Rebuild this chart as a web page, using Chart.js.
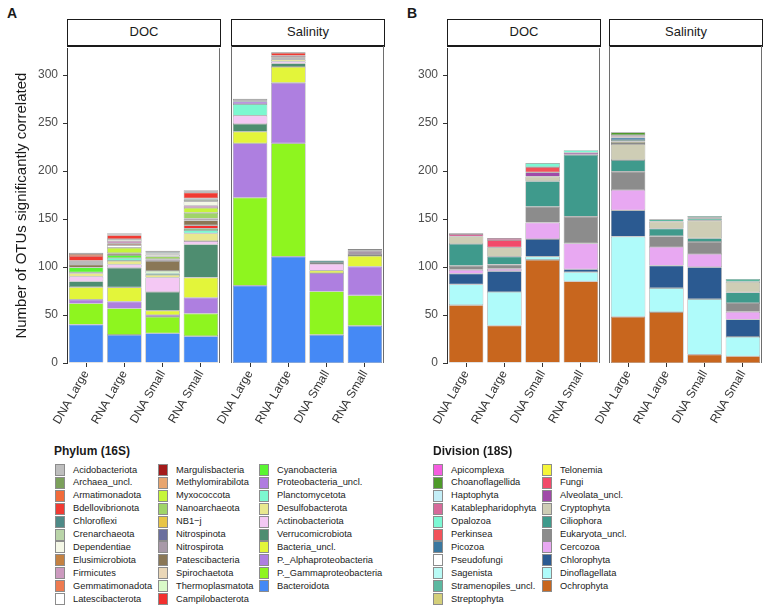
<!DOCTYPE html>
<html>
<head>
<meta charset="utf-8">
<script src="https://cdn.jsdelivr.net/npm/chart.js@4.4.1/dist/chart.umd.min.js"></script>
<style>
  html, body { margin: 0; padding: 0; background: #fff; }
  body { font-family: "Liberation Sans", Arial, sans-serif; color: #1a1a1a; }
  #page { position: relative; width: 767px; height: 608px; overflow: hidden; }
  .tag { position: absolute; font-weight: bold; font-size: 14px; }
  .strip { position: absolute; box-sizing: border-box; border: 1px solid #1a1a1a; border-bottom-width: 2px;
           background: #fff; font-size: 13px; text-align: center; line-height: 24px; }
  .cv { position: absolute; }
  .lg-title { position: absolute; font-weight: bold; font-size: 12px; }
  .lg-key { position: absolute; width: 10px; height: 12px; box-sizing: border-box; border: 1px solid #8c8c8c; }
  .lg-text { position: absolute; font-size: 9.3px; line-height: 12px; white-space: nowrap; }
</style>
</head>
<body>
<div id="page"></div>
<script>
// samples and facets
const samples = ['DNA Large', 'RNA Large', 'DNA Small', 'RNA Small'];
const facets = ['DOC', 'Salinity'];
const yTicks = [0, 50, 100, 150, 200, 250, 300];

// 16S phyla, legend order (first one sits on top of the stack)
const phyla = ['Acidobacteriota', 'Archaea_uncl.', 'Armatimonadota', 'Bdellovibrionota', 'Chloroflexi',
  'Crenarchaeota', 'Dependentiae', 'Elusimicrobiota', 'Firmicutes', 'Gemmatimonadota', 'Latescibacterota',
  'Margulisbacteria', 'Methylomirabilota', 'Myxococcota', 'Nanoarchaeota', 'NB1\u2212j', 'Nitrospinota',
  'Nitrospirota', 'Patescibacteria', 'Spirochaetota', 'Thermoplasmatota', 'Campilobacterota',
  'Cyanobacteria', 'Proteobacteria_uncl.', 'Planctomycetota', 'Desulfobacterota', 'Actinobacteriota',
  'Verrucomicrobiota', 'Bacteria_uncl.', 'P._Alphaproteobacteria', 'P._Gammaproteobacteria', 'Bacteroidota'];
const phylaColors = ['#bebebe', '#7ba05b', '#f26b3a', '#f03a32', '#4e8a87',
  '#b9d4a8', '#f4f7e6', '#c48141', '#cc9abf', '#ee7a50', '#ffffff',
  '#a31a1a', '#e8a56e', '#c6f53a', '#a0d468', '#e8c546', '#6b6f9e',
  '#a899a8', '#8a7756', '#ead7b7', '#dafac8', '#f2302e',
  '#5af532', '#b07ce0', '#7cf8d0', '#e8e88f', '#f4c8f4',
  '#4e8d70', '#e3f53a', '#ae7fe0', '#8ef51f', '#4589f5'];
// values per phylum: DNA Large, RNA Large, DNA Small, RNA Small
const phylaDOC = [
  [1.5, 1.7, 1.5, 2.5], [0, 0, 0, 0], [2, 0.5, 0, 0], [5, 4, 0, 6], [0, 0, 1.5, 1.5],
  [1, 0, 1, 1.5], [1, 2, 2, 4.5], [0, 0, 0, 0], [1, 2.8, 0, 2.5], [0, 1.4, 0, 0], [0, 3, 0, 0],
  [0, 0, 0, 0], [0, 0, 0, 0], [0, 5.5, 0, 5], [1, 0, 2.8, 6], [0, 0, 0, 0], [0, 0, 0, 0],
  [0, 0, 2, 2], [3, 2, 10.3, 5], [0, 0, 0, 0], [0, 0, 2.4, 0], [0, 0, 0, 3.5],
  [5, 3, 0, 1.5], [0, 0, 0, 0], [1, 3, 1.7, 3.5], [3.5, 3.8, 2.8, 8], [5, 3.4, 15, 3.5],
  [6, 20.4, 19.5, 34.5], [13, 14.8, 4.5, 21], [4, 7.2, 2, 16.5], [22, 27.5, 17, 23.5], [40, 29.3, 31, 28]
];
const phylaSalinity = [
  [1.5, 1, 0, 1], [0, 0, 0, 0], [0, 0, 0, 0], [0, 3, 0, 0.8], [1.5, 0, 2.5, 0],
  [0, 0, 0, 0], [0, 0, 0, 0], [0, 0, 0, 0], [0, 1.5, 0, 0], [0, 0, 0, 0], [0, 0, 0, 0],
  [0, 0, 0, 0], [0, 0, 0, 0], [0, 0, 0, 0], [0, 0, 0, 0], [0, 0, 0, 0], [0, 0, 0, 0],
  [0, 0, 0, 4.4], [0, 1.5, 0, 0], [0, 0, 0, 0], [0, 0, 0, 0], [0, 0, 0, 0],
  [0, 0, 0, 0], [2.4, 0, 0, 0], [12, 1, 0, 0], [0, 2, 1, 1], [8.6, 2, 7, 0],
  [8, 3.5, 0, 0], [12, 16.5, 2.5, 11], [56.3, 62.6, 19, 29.9], [91, 117.3, 44.8, 31.4], [80, 110, 29.2, 38.5]
];

// 18S divisions
const divisions = ['Apicomplexa', 'Choanoflagellida', 'Haptophyta', 'Katablepharidophyta', 'Opalozoa',
  'Perkinsea', 'Picozoa', 'Pseudofungi', 'Sagenista', 'Stramenopiles_uncl.', 'Streptophyta',
  'Telonemia', 'Fungi', 'Alveolata_uncl.', 'Cryptophyta', 'Ciliophora', 'Eukaryota_uncl.',
  'Cercozoa', 'Chlorophyta', 'Dinoflagellata', 'Ochrophyta'];
const divisionColors = ['#f55de0', '#4e9a2a', '#c4eef7', '#d66a9a', '#7cf8d4',
  '#f2525a', '#3a78a0', '#ffffff', '#b9faf5', '#5cb8a0', '#d4cf7a',
  '#f5f53a', '#f24a6a', '#a04aa8', '#cecdb5', '#3f9a8c', '#8c8c8c',
  '#e8a8f2', '#2b5a91', '#affbfa', '#c8661e'];
const divisionDOC = [
  [1, 0, 0, 0], [0, 0, 0, 0], [0, 0, 0, 0], [2.5, 2.1, 0, 0], [0, 0, 4.2, 2.7],
  [0, 0, 5.4, 0], [0, 0, 0, 0], [0, 0, 0, 0], [0, 0, 0, 0], [0, 0, 0, 0], [0, 0, 0, 0],
  [0, 0, 0, 0], [0, 7.6, 0, 0], [0, 0, 4.5, 2.1], [7.8, 9.7, 4.8, 0], [22.8, 8.2, 26.6, 64.4], [4.1, 4.5, 16.5, 27.9],
  [4.1, 2.4, 17.2, 26.9], [11.1, 21.7, 18.3, 3.1], [21.7, 35.2, 3.4, 9.6], [60.2, 38.8, 107.4, 85]
];
const divisionSalinity = [
  [0, 0, 0, 0], [3, 0, 0, 0], [1, 0, 0, 0], [1.5, 0, 0, 0], [0, 0, 1.5, 0],
  [0, 0, 0, 0], [2.5, 0, 0, 0], [0, 0, 0, 0], [0, 0, 1.4, 0], [1.5, 2.4, 2, 3], [1.5, 0, 0, 0],
  [1.2, 0, 0, 0], [0, 0, 0, 0], [0, 0, 0, 0], [16.5, 7.2, 18.2, 11], [12, 7.9, 3.8, 11], [19, 11.1, 12.4, 9],
  [21, 19.3, 13.7, 8], [27.2, 23.3, 33.1, 18], [83, 24.8, 57.5, 20], [47.8, 52.7, 8.6, 7]
];

Chart.defaults.font.family = '"Liberation Sans", Arial, sans-serif';
Chart.defaults.color = '#4d4d4d';

const page = document.getElementById('page');
const Y_MAX = 328;

// thin frame on each side of a facet panel
const panelFrame = {
  id: 'panelFrame',
  afterDraw(chart, args, opts) {
    const { ctx, chartArea: a } = chart;
    ctx.save();
    ctx.strokeStyle = opts.color || '#666';
    ctx.lineWidth = 1;
    ctx.beginPath();
    if (opts.left) {
      ctx.moveTo(a.left + 0.5, a.top);
      ctx.lineTo(a.left + 0.5, a.bottom);
    }
    ctx.moveTo(a.right - 0.5, a.top);
    ctx.lineTo(a.right - 0.5, a.bottom);
    ctx.stroke();
    ctx.restore();
  }
};

function el(cls, css, text) {
  const d = document.createElement('div');
  d.className = cls;
  Object.assign(d.style, css);
  if (text !== undefined) d.textContent = text;
  page.appendChild(d);
  return d;
}

function makeDatasets(names, colors, rows) {
  // ggplot stacks the first legend entry on top, chart.js stacks the first dataset at the bottom
  return names.map((name, i) => ({
    label: name,
    data: rows[i].map(v => (v === 0 ? null : v)), // empty segments would still draw an outline
    backgroundColor: colors[i],
    borderColor: '#8a8a8a',
    borderWidth: 0.6,
    borderSkipped: false,
    barPercentage: 0.9,
    categoryPercentage: 1
  })).reverse();
}

// one facet = one chart; plotLeft/plotRight are page x of the panel
function facetChart(plotLeft, plotRight, rows, names, colors, axis) {
  const top = 36, padTop = 10, xHeight = 80, plotH = 317;
  const yWidth = axis ? axis.width : 0;
  const padLeft = axis ? 0 : 40;
  const w = padLeft + yWidth + (plotRight - plotLeft) + 2;
  const h = padTop + plotH + xHeight;
  const canvas = document.createElement('canvas');
  canvas.className = 'cv';
  canvas.width = w;
  canvas.height = h;
  canvas.style.left = (plotLeft - yWidth - padLeft) + 'px';
  canvas.style.top = top + 'px';
  canvas.style.width = w + 'px';
  canvas.style.height = h + 'px';
  page.appendChild(canvas);

  return new Chart(canvas, {
    type: 'bar',
    data: { labels: samples, datasets: makeDatasets(names, colors, rows) },
    plugins: [panelFrame],
    options: {
      responsive: false,
      animation: false,
      events: [],
      layout: { padding: { top: padTop, right: 2, bottom: 0, left: padLeft } },
      plugins: {
        legend: { display: false },
        tooltip: { enabled: false },
        panelFrame: { left: !axis, color: '#6e6e6e' }
      },
      scales: {
        x: {
          stacked: true,
          afterFit: s => { s.height = xHeight; },
          grid: { display: true, drawOnChartArea: false, drawTicks: true, tickLength: 4, color: '#333', offset: false },
          border: { display: false },
          ticks: { autoSkip: false, minRotation: 60, maxRotation: 60, padding: 1, color: '#333', font: { size: 12 } }
        },
        y: {
          stacked: true,
          display: !!axis,
          min: 0,
          max: Y_MAX,
          afterFit: s => { s.width = yWidth; },
          afterBuildTicks: s => { s.ticks = yTicks.map(v => ({ value: v })); },
          grid: { display: true, drawOnChartArea: false, drawTicks: true, tickLength: 4, color: '#333' },
          border: { display: true, color: '#333', width: 1 },
          ticks: { padding: 5, color: '#4d4d4d', font: { size: 12 } },
          title: axis && axis.title ? {
            display: true,
            text: axis.title,
            color: '#1a1a1a',
            font: { size: 15 },
            padding: { top: 13, bottom: 0 }
          } : { display: false }
        }
      }
    }
  });
}

function strip(left, right, label) {
  el('strip', { left: left + 'px', top: '19px', width: (right - left + 1) + 'px', height: '28px' }, label);
}

function legend(title, names, colors, left, colLefts, perCol) {
  el('lg-title', { left: left + 'px', top: '444px' }, title);
  names.forEach((name, i) => {
    const col = Math.floor(i / perCol);
    const row = i % perCol;
    const cy = 470 + row * 12.9;
    el('lg-key', { left: colLefts[col] + 'px', top: (cy - 6) + 'px', background: colors[i] });
    el('lg-text', { left: (colLefts[col] + 18) + 'px', top: (cy - 6.5) + 'px' }, name);
  });
}

// panel A (16S)
el('tag', { left: '7px', top: '5px' }, 'A');
strip(67, 220, facets[0]);
strip(231, 384, facets[1]);
facetChart(67, 220, phylaDOC, phyla, phylaColors, { width: 67, title: 'Number of OTUs significantly correlated' });
facetChart(231, 384, phylaSalinity, phyla, phylaColors, null);

// panel B (18S)
el('tag', { left: '407px', top: '5px' }, 'B');
strip(447, 600, facets[0]);
strip(609, 762, facets[1]);
facetChart(447, 600, divisionDOC, divisions, divisionColors, { width: 40 });
facetChart(609, 762, divisionSalinity, divisions, divisionColors, null);

legend('Phylum (16S)', phyla, phylaColors, 54, [55, 158, 259], 11);
legend('Division (18S)', divisions, divisionColors, 433, [433, 542], 11);
</script>
</body>
</html>
